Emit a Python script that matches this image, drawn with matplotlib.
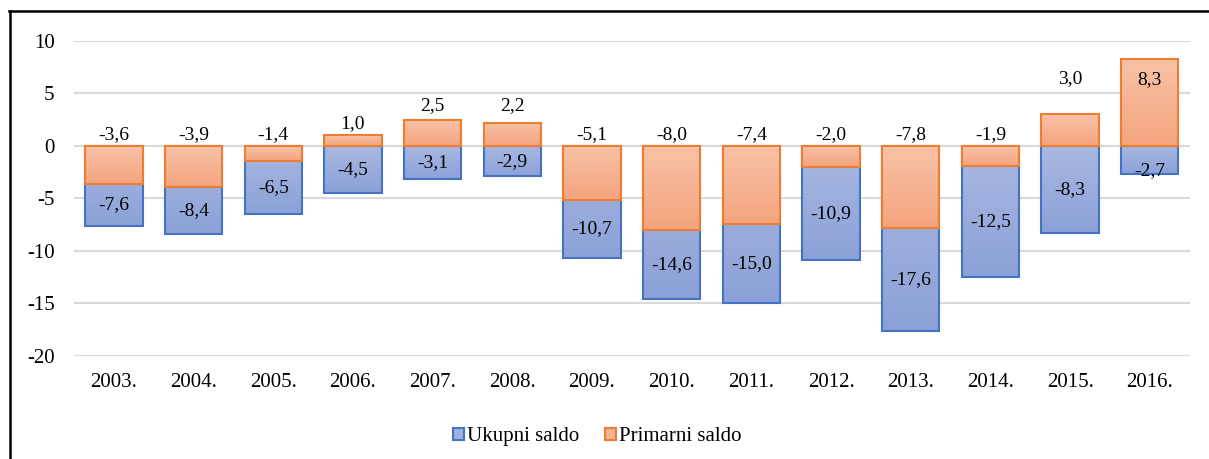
import numpy as np
import matplotlib.pyplot as plt
from matplotlib.patches import Patch
from matplotlib.colors import LinearSegmentedColormap
from matplotlib.lines import Line2D

plt.rcParams['font.family'] = ['Liberation Serif', 'DejaVu Serif']
plt.rcParams['axes.unicode_minus'] = False

years = ["2003.", "2004.", "2005.", "2006.", "2007.", "2008.", "2009.",
         "2010.", "2011.", "2012.", "2013.", "2014.", "2015.", "2016."]
ukupni = [-7.6, -8.4, -6.5, -4.5, -3.1, -2.9, -10.7,
          -14.6, -15.0, -10.9, -17.6, -12.5, -8.3, -2.7]
primarni = [-3.6, -3.9, -1.4, 1.0, 2.5, 2.2, -5.1,
            -8.0, -7.4, -2.0, -7.8, -1.9, 3.0, 8.3]

blue_edge, blue_top, blue_bot = "#4472c4", "#aab9e2", "#8ba1d7"
orange_edge, orange_top, orange_bot = "#ed7d31", "#f8c2a7", "#f4a47e"


def fmt(v):
    return f"{v:.1f}".replace(".", ",")


def gradient_fill(ax, bars, c_top, c_bot):
    cmap = LinearSegmentedColormap.from_list("g", [c_top, c_bot])
    grad = np.linspace(0, 1, 256).reshape(-1, 1)
    for b in bars:
        x0, y0 = b.get_x(), b.get_y()
        w, h = b.get_width(), b.get_height()
        lo, hi = min(y0, y0 + h), max(y0, y0 + h)
        im = ax.imshow(grad, cmap=cmap, aspect="auto", extent=(x0, x0 + w, lo, hi),
                       origin="upper", zorder=b.get_zorder() - 0.1, interpolation="bicubic")
        im.set_clip_path(b)
        b.set_facecolor("none")


fig = plt.figure(figsize=(12.09, 4.59), dpi=100)
ax = fig.add_axes([0.0612, 0.2244, 0.9228, 0.6863])

x = np.arange(len(years))
width = 0.72
bars_u = ax.bar(x, ukupni, width, edgecolor=blue_edge, linewidth=1.5, zorder=3)
bars_p = ax.bar(x, primarni, width, edgecolor=orange_edge, linewidth=1.5, zorder=5)
gradient_fill(ax, bars_u, blue_top, blue_bot)
gradient_fill(ax, bars_p, orange_top, orange_bot)

ax.set_xlim(-0.5, len(years) - 0.5)
ax.set_ylim(-20, 10)
ax.set_yticks(range(-20, 11, 5))
ax.set_xticks(x)
ax.set_xticklabels(years)
ax.tick_params(axis="both", length=0, labelsize=15)
ax.tick_params(axis="y", pad=14)
ax.tick_params(axis="x", pad=12)
ax.yaxis.grid(True, color="#d9d9d9", linewidth=1.5, zorder=0)
ax.set_axisbelow(True)
for s in ax.spines.values():
    s.set_visible(False)

# data labels
label_shift = {4: 1.3, 5: 1.6, 12: 3.4}
for i, (u, p) in enumerate(zip(ukupni, primarni)):
    if p > 5:
        yp = p - 2.0
    else:
        yp = max(p, 0) + label_shift.get(i, 1.1)
    ax.text(i, yp, fmt(p), ha="center", va="center", fontsize=14, zorder=10)
    top = min(p, 0)
    yu = (top + u) / 2
    if top - u < 2.8:
        yu = u + 0.4
    ax.text(i, yu, fmt(u), ha="center", va="center", fontsize=14, zorder=10)

handles = [Patch(facecolor="#9eb0de", edgecolor=blue_edge, linewidth=1.5),
           Patch(facecolor="#f6b394", edgecolor=orange_edge, linewidth=1.5)]
fig.legend(handles, ["Ukupni saldo", "Primarni saldo"], loc="center",
           bbox_to_anchor=(0.494, 0.048), ncol=2, frameon=False, fontsize=15,
           handlelength=0.55, handleheight=0.55, handletextpad=0.15, columnspacing=1.2)

# chart frame (left and top edges visible)
fig.add_artist(Line2D([0.0083, 0.0083], [0, 0.976], color="black", linewidth=1.8))
fig.add_artist(Line2D([0.0075, 1.0], [0.976, 0.976], color="black", linewidth=1.8))

fig.savefig("out.png", dpi=100)
